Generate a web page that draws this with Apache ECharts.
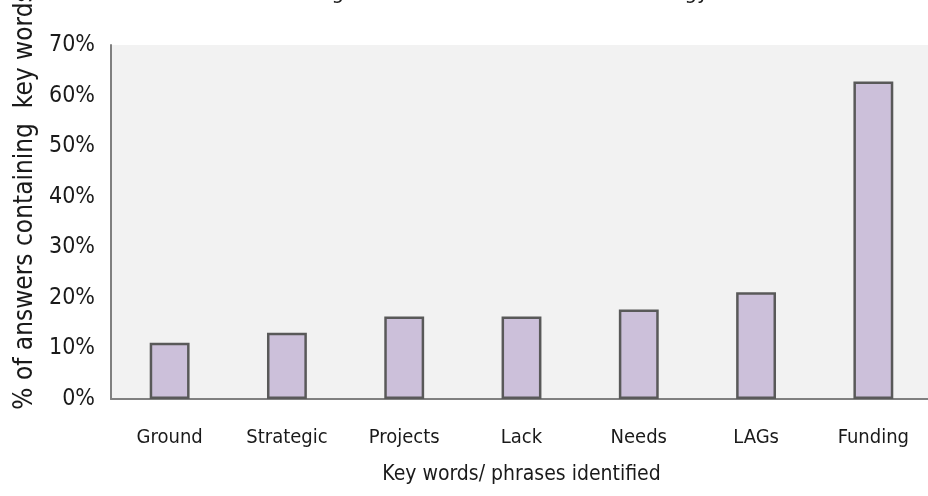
<!DOCTYPE html>
<html><head><meta charset="utf-8">
<script src="https://cdn.jsdelivr.net/npm/echarts@6/dist/echarts.min.js"></script>
<style>html,body{margin:0;padding:0;background:#fff}#c{width:928px;height:496px}</style>
</head><body><div id="c"></div>
<script>
const categories = ['Ground','Strategic','Projects','Lack','Needs','LAGs','Funding'];
const values = [11.1, 13.1, 16.3, 16.3, 17.7, 21.1, 62.8];
const yTicks = [0,10,20,30,40,50,60,70];
const titleText = 'farm management and better direct the strategy?';
const xName = 'Key words/ phrases identified';
const yName = '% of answers containing  key words';
const FONT = "'DejaVu Sans Condensed','Liberation Sans Narrow','Liberation Sans',Arial,sans-serif";
const chart = echarts.init(document.getElementById('c'), null, {renderer:'canvas'});
chart.setOption({
  animation:false,
  backgroundColor:'#fff',
  title:{text:titleText,left:218,top:-23,textStyle:{fontFamily:FONT,fontSize:22,fontWeight:'normal',color:'#1a1a1a'}},
  grid:{left:111,right:-4,top:45,bottom:97,show:true,backgroundColor:'#f2f2f2',borderWidth:0,
    containLabel:false,outerBoundsMode:'none'},
  xAxis:{type:'category',data:categories,
    axisLine:{show:true,lineStyle:{color:'#808080',width:2}},
    axisTick:{show:false},
    axisLabel:{fontFamily:FONT,fontSize:20,color:'#1a1a1a',margin:29},
    name:xName,nameLocation:'middle',nameGap:65,
    nameTextStyle:{fontFamily:FONT,fontSize:21,color:'#1a1a1a'}},
  yAxis:{type:'value',min:yTicks[0],max:yTicks[yTicks.length-1],interval:10,
    axisLine:{show:true,lineStyle:{color:'#808080',width:2}},
    axisTick:{show:false},splitLine:{show:false},
    axisLabel:{fontFamily:FONT,fontSize:23,color:'#1a1a1a',margin:16,formatter:v=>v+'%'},
    name:yName,nameLocation:'middle',nameGap:73,nameRotate:90,
    nameTextStyle:{fontFamily:FONT,fontSize:26,color:'#1a1a1a',padding:[0,0,0,44]}},
  series:[{type:'bar',data:values,barWidth:'34%',
    itemStyle:{color:'#ccc0da',borderColor:'#595959',borderWidth:2.5}}]
});
</script></body></html>
